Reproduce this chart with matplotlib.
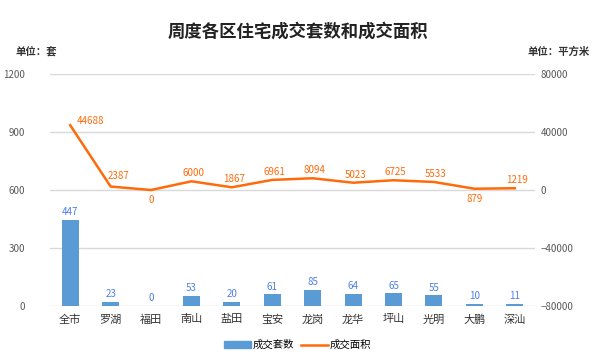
import numpy as np
import matplotlib.pyplot as plt
from matplotlib.patches import Patch
from matplotlib.lines import Line2D

plt.rcParams['font.family'] = ['Noto Sans CJK SC', 'DejaVu Sans']

districts = ["全市", "罗湖", "福田", "南山", "盐田", "宝安", "龙岗", "龙华", "坪山", "光明", "大鹏", "深汕"]
units = [447, 23, 0, 53, 20, 61, 85, 64, 65, 55, 10, 11]
area = [44688, 2387, 0, 6000, 1867, 6961, 8094, 5023, 6725, 5533, 879, 1219]

bar_color = "#5B9BD5"
line_color = "#FF6A0A"
tick_color = "#595959"

fig = plt.figure(figsize=(5.95, 3.58), dpi=100)
ax = fig.add_axes([50 / 595, 1 - 306 / 358, 485 / 595, 232 / 358])
ax2 = ax.twinx()

x = np.arange(len(districts))
ax.bar(x, units, width=0.42, color=bar_color, zorder=2)
for xi, v in zip(x, units):
    ax.text(xi, v + 14, str(v), ha="center", va="bottom", fontsize=7, color="#4F7FE6")

ax.set_ylim(0, 1200)
ax.set_yticks([0, 300, 600, 900, 1200])
ax.set_xlim(-0.5, len(districts) - 0.5)
ax.set_xticks(x)
ax.set_xticklabels(districts, fontsize=8, color="#333333")
ax.grid(axis="y", color="#D9D9D9", linewidth=1, zorder=0)
ax.set_axisbelow(True)

ax2.plot(x, area, color=line_color, linewidth=1.8, zorder=3)
ax2.set_ylim(-80000, 80000)
ax2.set_yticks([-80000, -40000, 0, 40000, 80000])
for xi, v in zip(x, area):
    if v in (0, 879):
        ax2.text(xi, v - 3500, str(v), ha="center", va="top", fontsize=7, color=line_color)
    elif xi == 0:
        ax2.text(xi + 0.15, v - 500, str(v), ha="left", va="bottom", fontsize=7, color=line_color)
    elif xi == 1:
        ax2.text(xi + 0.2, v + 4000, str(v), ha="center", va="bottom", fontsize=7, color=line_color)
    else:
        ax2.text(xi + 0.05, v + 2200, str(v), ha="center", va="bottom", fontsize=7, color=line_color)

for a in (ax, ax2):
    for s in a.spines.values():
        s.set_visible(False)
    a.tick_params(length=0, labelsize=7, colors=tick_color)
ax.tick_params(axis="x", labelsize=8, colors="#333333", pad=6)
ax.tick_params(axis="y", pad=18)
ax2.tick_params(axis="y", pad=4)

fig.text(0.5, 1 - 32 / 358, "周度各区住宅成交套数和成交面积", ha="center", va="center",
         fontsize=12.5, fontweight="bold", color="#222222")
fig.text(15 / 595, 1 - 52 / 358, "单位：套", ha="left", va="center", fontsize=7.5,
         fontweight="bold", color="#333333")
fig.text(590 / 595, 1 - 52 / 358, "单位：平方米", ha="right", va="center", fontsize=7.5,
         fontweight="bold", color="#333333")

handles = [Patch(color=bar_color), Line2D([0], [0], color=line_color, linewidth=1.8)]
fig.legend(handles, ["成交套数", "成交面积"], loc="center", bbox_to_anchor=(0.5, 1 - 345 / 358),
           ncol=2, frameon=False, fontsize=7.5, handlelength=2.6, handleheight=0.6,
           columnspacing=0.6, handletextpad=0.2)

plt.savefig("out.png", dpi=100)
